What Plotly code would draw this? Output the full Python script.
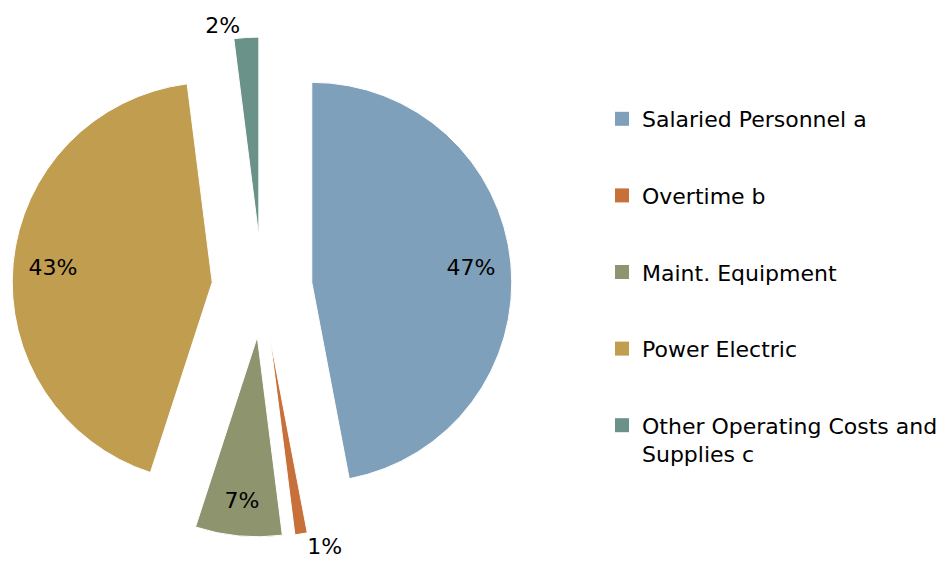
import plotly.graph_objects as go

# Operating cost breakdown
categories = [
    "Salaried Personnel a",
    "Overtime b",
    "Maint. Equipment",
    "Power Electric",
    "Other Operating Costs and<br>Supplies c",
]
shares = [47, 1, 7, 43, 2]
colors = ["#7FA0BB", "#C8703A", "#8E946D", "#C19D50", "#6A9288"]
label_positions = ["inside", "outside", "inside", "inside", "outside"]

FONT = "DejaVu Sans"
W, H = 946, 574
PULL = 0.25
pie_domain = dict(x=[12 / W, 512 / W], y=[1 - 537 / H, 1 - 37 / H])

fig = go.Figure()

# Filled wedges
fig.add_trace(go.Pie(
    labels=categories,
    values=shares,
    sort=False,
    direction="clockwise",
    rotation=0,
    pull=[PULL] * len(shares),
    marker=dict(colors=colors, line=dict(color="white", width=1)),
    textinfo="none",
    domain=pie_domain,
    showlegend=False,
    hoverinfo="label+percent",
))

# Percentage labels: same geometry, transparent ring so inside text sits near the rim
fig.add_trace(go.Pie(
    labels=categories,
    values=shares,
    sort=False,
    direction="clockwise",
    rotation=0,
    pull=[PULL] * len(shares),
    hole=0.6,
    marker=dict(colors=["rgba(0,0,0,0)"] * len(shares), line=dict(width=0)),
    texttemplate="%{percent:.0%}",
    textposition=label_positions,
    insidetextorientation="horizontal",
    textfont=dict(family=FONT, size=22, color="black"),
    domain=pie_domain,
    showlegend=False,
    hoverinfo="skip",
))

# Legend entries: one square swatch per category, spaced apart with group gaps
for i, (name, col) in enumerate(zip(categories, colors)):
    fig.add_trace(go.Scatter(
        x=[None], y=[None],
        mode="markers",
        marker=dict(symbol="square", size=14, color=col),
        name=name,
        legendgroup=f"g{i}",
        showlegend=True,
        hoverinfo="skip",
    ))

fig.update_layout(
    width=W, height=H,
    margin=dict(l=0, r=0, t=0, b=0, autoexpand=False),
    paper_bgcolor="white",
    plot_bgcolor="white",
    xaxis=dict(visible=False),
    yaxis=dict(visible=False),
    legend=dict(
        x=602 / W, xanchor="left",
        y=1 - 98 / H, yanchor="top",
        traceorder="grouped",
        tracegroupgap=45,
        valign="top",
        font=dict(family=FONT, size=22, color="black"),
        bgcolor="rgba(0,0,0,0)",
        borderwidth=0,
    ),
    font=dict(family=FONT),
)

fig.write_html("out.html")
